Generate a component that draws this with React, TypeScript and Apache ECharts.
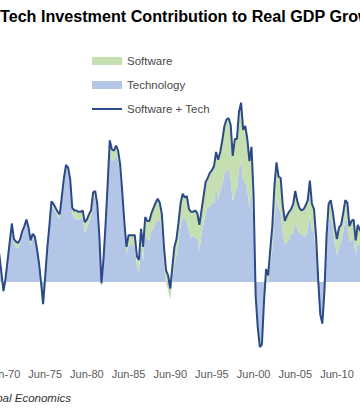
import React, { useEffect, useRef } from "react";
import * as echarts from "echarts";

// Quarterly categories: first quarter is Sep-1969
const START_YEAR = 1969;
const START_QUARTER = 3; // 1=Mar,2=Jun,3=Sep,4=Dec
const MONTHS = ["Mar", "Jun", "Sep", "Dec"];

const TICK_LABELS = ["Jun-70", "Jun-75", "Jun-80", "Jun-85", "Jun-90", "Jun-95", "Jun-00", "Jun-05", "Jun-10"];

// Software + Tech (percentage points), Sep-69 .. Jun-13
const TOTAL = [
  0.28, 0.21, 0.07, -0.07, 0.03, 0.17, 0.31, 0.45, 0.33, 0.31, 0.30, 0.33, 0.39, 0.43, 0.48, 0.42,
  0.32, 0.37, 0.35, 0.26, 0.15, 0.00, -0.17, 0.04, 0.26, 0.43, 0.62, 0.60, 0.57, 0.54, 0.52, 0.66,
  0.80, 0.90, 0.88, 0.79, 0.57, 0.55, 0.55, 0.54, 0.54, 0.55, 0.46, 0.48, 0.52, 0.55, 0.69, 0.70,
  0.60, 0.35, -0.01, 0.18, 0.45, 0.76, 1.09, 1.02, 1.01, 1.05, 1.01, 0.90, 0.69, 0.46, 0.27, 0.36,
  0.36, 0.36, 0.36, 0.20, 0.17, 0.41, 0.27, 0.50, 0.47, 0.47, 0.53, 0.57, 0.61, 0.64, 0.61, 0.52,
  0.27, 0.09, 0.05, -0.05, 0.11, 0.27, 0.33, 0.46, 0.61, 0.68, 0.65, 0.66, 0.56, 0.54, 0.54, 0.55,
  0.53, 0.44, 0.55, 0.66, 0.77, 0.80, 0.84, 0.86, 0.89, 1.00, 0.94, 1.00, 1.09, 1.20, 1.25, 1.26,
  1.21, 0.97, 1.10, 1.10, 1.31, 1.38, 1.17, 1.20, 1.10, 0.93, 1.04, 0.67, -0.11, -0.35, -0.50, -0.48,
  -0.15, 0.10, 0.05, 0.25, 0.43, 0.74, 0.92, 0.81, 0.80, 0.59, 0.47, 0.51, 0.54, 0.56, 0.60, 0.70,
  0.62, 0.57, 0.55, 0.56, 0.59, 0.63, 0.78, 0.60, 0.56, 0.35, 0.02, -0.25, -0.32, -0.07, 0.35, 0.60,
  0.63, 0.54, 0.42, 0.33, 0.42, 0.44, 0.53, 0.63, 0.61, 0.43, 0.47, 0.48, 0.32, 0.44, 0.40, 0.38,
];

const SOFTWARE = [
  0.02, 0.02, 0.01, 0.01, 0.01, 0.02, 0.02, 0.03, 0.03, 0.04, 0.04, 0.03, 0.03, 0.02, 0.03, 0.03,
  0.04, 0.03, 0.03, 0.02, 0.02, 0.01, 0.00, 0.01, 0.02, 0.02, 0.03, 0.03, 0.03, 0.04, 0.03, 0.03,
  0.03, 0.04, 0.04, 0.04, 0.05, 0.06, 0.07, 0.06, 0.05, 0.06, 0.08, 0.07, 0.06, 0.05, 0.05, 0.05,
  0.05, 0.04, 0.03, 0.04, 0.05, 0.06, 0.06, 0.09, 0.08, 0.07, 0.08, 0.07, 0.07, 0.06, 0.06, 0.08,
  0.07, 0.08, 0.09, 0.08, 0.10, 0.09, 0.11, 0.12, 0.14, 0.15, 0.13, 0.16, 0.15, 0.17, 0.14, 0.13,
  0.12, 0.10, 0.11, 0.08, 0.10, 0.12, 0.13, 0.15, 0.17, 0.18, 0.16, 0.19, 0.17, 0.20, 0.18, 0.21,
  0.19, 0.20, 0.18, 0.21, 0.24, 0.22, 0.26, 0.25, 0.29, 0.27, 0.31, 0.30, 0.34, 0.36, 0.40, 0.38,
  0.42, 0.35, 0.41, 0.38, 0.44, 0.45, 0.40, 0.43, 0.39, 0.36, 0.33, 0.22, 0.05, -0.02, -0.04, -0.05,
  0.00, 0.05, 0.07, 0.12, 0.18, 0.24, 0.28, 0.25, 0.27, 0.22, 0.18, 0.20, 0.22, 0.19, 0.23, 0.25,
  0.21, 0.20, 0.18, 0.21, 0.24, 0.22, 0.26, 0.20, 0.18, 0.14, 0.06, -0.02, -0.04, 0.01, 0.08, 0.12,
  0.14, 0.11, 0.13, 0.12, 0.15, 0.13, 0.14, 0.16, 0.13, 0.12, 0.14, 0.15, 0.11, 0.13, 0.12, 0.12,
];

const TECHNOLOGY = [
  0.26, 0.19, 0.06, -0.08, 0.02, 0.15, 0.29, 0.42, 0.30, 0.27, 0.26, 0.30, 0.36, 0.41, 0.45, 0.39,
  0.28, 0.34, 0.32, 0.24, 0.13, -0.01, -0.17, 0.03, 0.24, 0.41, 0.59, 0.57, 0.54, 0.50, 0.49, 0.63,
  0.77, 0.86, 0.84, 0.75, 0.52, 0.49, 0.48, 0.48, 0.49, 0.49, 0.38, 0.41, 0.46, 0.50, 0.64, 0.65,
  0.55, 0.31, -0.04, 0.14, 0.40, 0.70, 1.03, 0.93, 0.93, 0.98, 0.93, 0.83, 0.62, 0.40, 0.21, 0.28,
  0.29, 0.28, 0.27, 0.12, 0.07, 0.32, 0.16, 0.38, 0.33, 0.32, 0.40, 0.41, 0.46, 0.47, 0.47, 0.39,
  0.15, -0.01, -0.06, -0.13, 0.01, 0.15, 0.20, 0.31, 0.44, 0.50, 0.49, 0.47, 0.39, 0.34, 0.36, 0.34,
  0.34, 0.24, 0.37, 0.45, 0.53, 0.58, 0.58, 0.61, 0.60, 0.73, 0.63, 0.70, 0.75, 0.84, 0.85, 0.88,
  0.79, 0.62, 0.69, 0.72, 0.87, 0.93, 0.77, 0.77, 0.71, 0.57, 0.71, 0.45, -0.16, -0.33, -0.46, -0.43,
  -0.15, 0.05, -0.02, 0.13, 0.25, 0.50, 0.64, 0.56, 0.53, 0.37, 0.29, 0.31, 0.32, 0.37, 0.37, 0.45,
  0.41, 0.37, 0.37, 0.35, 0.35, 0.41, 0.52, 0.40, 0.38, 0.21, -0.04, -0.23, -0.28, -0.08, 0.27, 0.48,
  0.49, 0.43, 0.29, 0.21, 0.27, 0.31, 0.39, 0.47, 0.48, 0.31, 0.33, 0.33, 0.21, 0.31, 0.28, 0.26,
];

const TITLE = "Tech Investment Contribution to Real GDP Growth";
const SOURCE = "Source: Global Economics";

const FONT = "'Liberation Sans', Arial, Helvetica, sans-serif";

function buildCategories(n: number): string[] {
  const out: string[] = [];
  let y = START_YEAR;
  let q = START_QUARTER - 1;
  for (let i = 0; i < n; i++) {
    out.push(MONTHS[q] + "-" + String(y % 100).padStart(2, "0"));
    q++;
    if (q > 3) {
      q = 0;
      y++;
    }
  }
  return out;
}

export default function App() {
  const ref = useRef<HTMLDivElement>(null);

  useEffect(() => {
    if (!ref.current) return;
    const chart = echarts.init(ref.current, null, { renderer: "svg" });
    const categories = buildCategories(TOTAL.length);
    const OFF = 20; // inner div offset to the left
    chart.setOption({
      animation: false,
      grid: { left: 17.25, right: 18.05, top: 74, bottom: 51, containLabel: false },
      legend: {
        orient: "vertical",
        left: OFF + 86,
        top: 49,
        itemWidth: 30,
        itemHeight: 8,
        itemGap: 10,
        selectedMode: false,
        textStyle: { fontSize: 11.5, color: "#4a4a4a", fontFamily: FONT, lineHeight: 14 },
        data: [
          { name: "Software", icon: "rect", itemStyle: { color: "#C5DFB0" } },
          { name: "Technology", icon: "rect", itemStyle: { color: "#B4C6E7" } },
          { name: "Software + Tech", itemStyle: { opacity: 0 }, lineStyle: { color: "#2C4A87", width: 2 } },
        ],
      },
      xAxis: {
        type: "category",
        data: categories,
        boundaryGap: false,
        axisLine: { show: false },
        axisTick: { show: false },
        splitLine: { show: false },
        axisLabel: {
          interval: (_i: number, v: string) => TICK_LABELS.includes(v),
          color: "#595959",
          fontSize: 11,
          fontFamily: FONT,
          margin: 8,
          hideOverlap: false,
        },
      },
      yAxis: {
        type: "value",
        min: -0.6,
        max: 1.6,
        show: false,
        splitLine: { show: false },
      },
      graphic: [
        {
          type: "text",
          x: OFF,
          y: 16,
          style: {
            text: TITLE,
            font: "bold 16.15px " + FONT,
            fill: "#000000",
            textAlign: "left",
            textVerticalAlign: "middle",
          },
        },
        {
          type: "text",
          x: OFF + 71,
          y: 398,
          style: {
            text: SOURCE,
            font: "italic 11.5px " + FONT,
            fill: "#333333",
            textAlign: "right",
            textVerticalAlign: "middle",
          },
        },
      ],
      series: [
        {
          name: "Technology",
          type: "line",
          stack: "sum",
          stackStrategy: "all",
          data: TECHNOLOGY,
          symbol: "none",
          color: "#B4C6E7",
          lineStyle: { width: 0 },
          areaStyle: { color: "#B4C6E7", opacity: 1 },
          z: 1,
        },
        {
          name: "Software",
          type: "line",
          stack: "sum",
          stackStrategy: "all",
          data: SOFTWARE,
          symbol: "none",
          color: "#C5DFB0",
          lineStyle: { width: 0 },
          areaStyle: { color: "#C5DFB0", opacity: 1 },
          z: 2,
        },
        {
          name: "Software + Tech",
          type: "line",
          data: TOTAL,
          symbol: "none",
          color: "#2C4A87",
          lineStyle: { width: 2, color: "#2C4A87" },
          z: 3,
        },
      ],
    });
    return () => chart.dispose();
  }, []);

  return (
    <div style={{ position: "absolute", left: 0, top: 0, width: 360, height: 411, overflow: "hidden", background: "#fff" }}>
      <div ref={ref} style={{ position: "absolute", left: -20, top: 0, width: 400, height: 411 }} />
    </div>
  );
}
